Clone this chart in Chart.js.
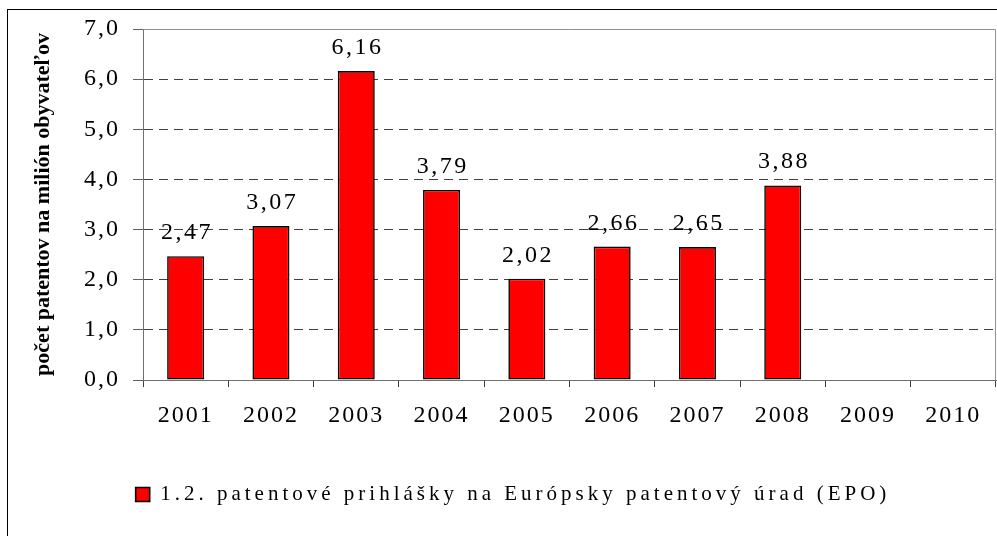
<!DOCTYPE html>
<html>
<head>
<meta charset="utf-8">
<script src="https://cdn.jsdelivr.net/npm/chart.js@4/dist/chart.umd.min.js"></script>
<style>
  html, body { margin: 0; padding: 0; background: #fff; }
  #wrap { width: 997px; height: 536px; position: relative; }
</style>
</head>
<body>
<div id="wrap"><canvas id="c" width="997" height="536"></canvas></div>
<script>
const categories = ['2001', '2002', '2003', '2004', '2005', '2006', '2007', '2008', '2009', '2010'];
const values = [2.47, 3.07, 6.16, 3.79, 2.02, 2.66, 2.65, 3.88, null, null];
const seriesLabel = '1.2. patentové prihlášky na Európsky patentový úrad (EPO)';
const yTitle = 'počet patentov na milión obyvateľov';
const yTickLabels = ['0,0', '1,0', '2,0', '3,0', '4,0', '5,0', '6,0', '7,0'];

const SERIF = '"Liberation Serif", "Times New Roman", serif';
Chart.defaults.color = '#000';
Chart.defaults.font.family = SERIF;

function fmt(v) { return v.toFixed(2).replace('.', ','); }

function withSpacing(chart, sp, fn) {
  return function (...args) {
    const c = chart.ctx; const prev = c.letterSpacing;
    c.letterSpacing = sp;
    const r = fn(...args);
    c.letterSpacing = prev;
    return r;
  };
}

const framePlugin = {
  id: 'frame',
  beforeLayout(chart) {
    const lg = chart.legend;
    if (lg && !lg._ls) {
      lg.fit = withSpacing(chart, '4px', lg.fit.bind(lg));
      lg.draw = withSpacing(chart, '4px', lg.draw.bind(lg));
      lg._ls = true;
    }
  },
  afterLayout(chart) {
    const ys = chart.scales.y;
    if (ys && !ys._ls) {
      ys.drawTitle = withSpacing(chart, '0px', ys.drawTitle.bind(ys));
      ys._ls = true;
    }
  },
  beforeDraw(chart) {
    const ctx = chart.ctx;
    ctx.save();
    ctx.fillStyle = '#fff';
    ctx.fillRect(0, 0, chart.width, chart.height);
    ctx.strokeStyle = '#000';
    ctx.lineWidth = 1;
    ctx.strokeRect(7.5, 9.5, 1200, 800);
    ctx.restore();
    ctx.letterSpacing = '2px';
  },
  beforeDatasetsDraw(chart) {
    const a = chart.chartArea, ctx = chart.ctx;
    ctx.save();
    ctx.strokeStyle = '#909090';
    ctx.lineWidth = 1;
    ctx.beginPath();
    ctx.moveTo(a.left, a.top + 0.5);
    ctx.lineTo(a.right - 0.5, a.top + 0.5);
    ctx.lineTo(a.right - 0.5, a.bottom);
    ctx.stroke();
    ctx.restore();
  },
  afterDatasetsDraw(chart) {
    const ctx = chart.ctx;
    const meta = chart.getDatasetMeta(0);
    ctx.save();
    ctx.font = '24px ' + SERIF;
    ctx.letterSpacing = '2.5px';
    ctx.fillStyle = '#000';
    ctx.textAlign = 'center';
    ctx.textBaseline = 'alphabetic';
    meta.data.forEach((el, i) => {
      const v = values[i];
      if (v == null) return;
      ctx.fillText(fmt(v), el.x + 1.25, el.y - 17);
    });
    ctx.restore();
  },
  afterDraw(chart) {
    chart.ctx.letterSpacing = '0px';
  }
};

new Chart(document.getElementById('c'), {
  type: 'bar',
  data: {
    labels: categories,
    datasets: [{
      label: seriesLabel,
      data: values,
      backgroundColor: '#ff0000',
      borderColor: '#000',
      borderWidth: 1.6,
      borderSkipped: false,
      barPercentage: 0.434,
      categoryPercentage: 1.0
    }]
  },
  options: {
    responsive: false,
    animation: false,
    events: [],
    layout: { padding: { left: 30, top: 29, right: 1, bottom: 21 } },
    plugins: {
      tooltip: { enabled: false },
      legend: {
        position: 'bottom',
        labels: {
          font: { size: 21, family: SERIF },
          color: '#000',
          boxWidth: 14,
          boxHeight: 14,
          padding: 10
        }
      }
    },
    scales: {
      x: {
        offset: true,
        afterFit(s) { s.height = 94; s.paddingRight = 0; s.paddingLeft = 0; },
        border: { color: '#707070', width: 1 },
        grid: { display: true, drawOnChartArea: false, offset: true, tickLength: 7, tickColor: '#404040', tickWidth: 1 },
        ticks: { font: { size: 24, family: SERIF }, color: '#000', padding: 14, maxRotation: 0, autoSkip: false }
      },
      y: {
        min: 0,
        max: 7,
        afterFit(s) { s.width = 113; },
        border: { color: '#707070', width: 1, dash: [9, 6] },
        grid: {
          color: (c) => (c.index === 0 || c.index === 7) ? 'rgba(0,0,0,0)' : '#404040',
          tickColor: '#606060',
          tickLength: 10,
          tickBorderDash: [],
          lineWidth: 1
        },
        ticks: {
          stepSize: 1,
          font: { size: 24, family: SERIF },
          color: '#000',
          padding: 13,
          callback: (v, i) => yTickLabels[i]
        },
        title: {
          display: true,
          text: yTitle,
          font: { size: 22, weight: 'bold', family: SERIF },
          color: '#000',
          padding: { top: 0, bottom: 0 }
        }
      }
    }
  },
  plugins: [framePlugin]
});
</script>
</body>
</html>
